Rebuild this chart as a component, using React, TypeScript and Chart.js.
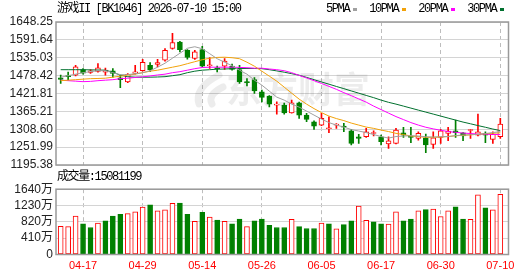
import React, { useEffect, useRef } from 'react';
import { Chart, registerables } from 'chart.js';

Chart.register(...registerables);

const dates = [
  '04-14', '04-15', '04-16', '04-17', '04-20', '04-21', '04-22', '04-23', '04-24', '04-27',
  '04-28', '04-29', '04-30', '05-06', '05-07', '05-08', '05-11', '05-12', '05-13', '05-14',
  '05-15', '05-18', '05-19', '05-20', '05-21', '05-22', '05-25', '05-26', '05-27', '05-28',
  '05-29', '06-01', '06-02', '06-03', '06-04', '06-05', '06-08', '06-09', '06-10', '06-11',
  '06-12', '06-15', '06-16', '06-17', '06-18', '06-22', '06-23', '06-24', '06-25', '06-26',
  '06-29', '06-30', '07-01', '07-02', '07-03', '07-06', '07-07', '07-08', '07-09', '07-10',
];

const opens = [
  1471.3, 1478.3, 1479.8, 1497.2, 1488.3, 1491.5, 1489.3, 1493.4, 1471.3, 1458.6,
  1485.2, 1494.1, 1511.4, 1513.6, 1527.2, 1564.2, 1585.0, 1558.8, 1532.6, 1561.0,
  1509.8, 1502.0, 1508.3, 1508.3, 1497.8, 1459.3, 1466.2, 1427.0, 1413.4, 1385.0,
  1385.0, 1360.7, 1392.2, 1353.4, 1332.3, 1321.8, 1310.1, 1321.8, 1317.1, 1303.8,
  1284.9, 1284.9, 1295.0, 1284.9, 1261.8, 1264.0, 1297.5, 1284.9, 1279.8, 1281.7,
  1260.8, 1283.0, 1295.6, 1303.8, 1297.5, 1304.5, 1290.2, 1295.6, 1276.6, 1284.9,
];
const highs = [
  1479.8, 1489.3, 1511.4, 1500.4, 1497.8, 1516.2, 1502.0, 1500.4, 1479.8, 1485.2,
  1511.4, 1530.4, 1519.9, 1530.4, 1564.2, 1612.5, 1587.3, 1561.0, 1558.8, 1571.5,
  1535.8, 1508.3, 1532.6, 1514.6, 1511.4, 1469.4, 1472.5, 1432.4, 1415.0, 1395.4,
  1391.3, 1400.8, 1394.5, 1358.8, 1335.4, 1358.8, 1348.0, 1326.6, 1327.2, 1308.2,
  1292.4, 1311.4, 1303.8, 1290.2, 1284.9, 1311.4, 1314.6, 1314.6, 1300.6, 1293.4,
  1300.6, 1308.2, 1314.6, 1337.6, 1298.1, 1308.2, 1356.6, 1300.6, 1300.6, 1343.0,
];
const lows = [
  1453.6, 1464.0, 1477.6, 1483.0, 1485.2, 1489.3, 1479.8, 1473.5, 1440.3, 1456.1,
  1483.0, 1492.5, 1490.9, 1506.0, 1524.1, 1562.6, 1553.5, 1530.4, 1529.4, 1506.7,
  1501.0, 1490.2, 1497.8, 1495.6, 1453.6, 1446.0, 1422.0, 1395.4, 1379.6, 1356.6,
  1356.6, 1359.7, 1343.0, 1332.3, 1308.2, 1320.2, 1297.5, 1311.4, 1300.6, 1258.6,
  1264.0, 1283.0, 1287.1, 1258.6, 1248.2, 1261.8, 1283.0, 1265.9, 1274.4, 1234.3,
  1248.2, 1264.0, 1272.2, 1283.0, 1272.2, 1279.8, 1287.1, 1265.9, 1264.0, 1279.8,
];
const closes = [
  1466.2, 1475.1, 1506.0, 1486.1, 1493.4, 1503.5, 1495.6, 1485.2, 1465.6, 1482.4,
  1490.2, 1520.9, 1496.2, 1519.9, 1558.8, 1583.2, 1561.0, 1535.8, 1553.5, 1508.3,
  1513.0, 1499.7, 1524.1, 1497.8, 1458.6, 1456.1, 1430.2, 1409.3, 1388.2, 1388.2,
  1360.7, 1392.2, 1353.4, 1339.8, 1318.7, 1343.0, 1312.4, 1325.0, 1315.5, 1264.0,
  1279.8, 1300.6, 1298.1, 1269.1, 1272.2, 1306.0, 1290.2, 1283.0, 1295.6, 1258.6,
  1281.7, 1303.8, 1302.9, 1297.5, 1287.1, 1306.7, 1300.6, 1290.2, 1292.4, 1325.0,
];

const ma5 = [
  1473.5, 1478.2, 1483.0, 1487.7, 1490.9, 1494.0, 1494.0, 1487.7, 1481.4, 1481.4,
  1484.6, 1487.7, 1494.0, 1505.1, 1517.7, 1533.5, 1549.3, 1565.1, 1569.9, 1563.6,
  1547.8, 1532.0, 1520.9, 1509.8, 1495.6, 1483.0, 1464.0, 1448.2, 1429.3, 1410.3,
  1400.8, 1388.2, 1378.7, 1366.1, 1353.4, 1340.8, 1329.7, 1321.8, 1315.5, 1307.6,
  1302.9, 1298.1, 1291.8, 1285.5, 1280.7, 1285.5, 1287.1, 1288.0, 1287.1, 1284.9,
  1283.9, 1284.9, 1285.5, 1288.6, 1290.2, 1291.2, 1292.4, 1295.0, 1298.1, 1301.3,
];
const ma10 = [
  1462.4, 1464.0, 1465.6, 1467.2, 1468.8, 1469.4, 1470.3, 1473.5, 1476.7, 1479.8,
  1483.0, 1487.7, 1492.5, 1495.6, 1500.4, 1505.1, 1509.8, 1516.2, 1522.5, 1528.8,
  1533.5, 1536.1, 1536.7, 1535.1, 1532.0, 1520.9, 1508.3, 1492.5, 1476.7, 1460.9,
  1441.9, 1422.9, 1404.0, 1388.2, 1374.0, 1361.3, 1350.3, 1342.4, 1336.0, 1328.1,
  1321.8, 1315.5, 1311.4, 1306.0, 1301.3, 1295.6, 1291.8, 1287.1, 1285.5, 1283.0,
  1283.0, 1283.9, 1285.5, 1288.0, 1289.3, 1290.9, 1292.8, 1294.3, 1295.9, 1297.5,
];
const ma20 = [
  1464.0, 1462.4, 1460.9, 1459.3, 1460.2, 1462.4, 1464.0, 1465.6, 1468.8, 1470.3,
  1472.6, 1474.5, 1477.3, 1480.5, 1483.0, 1487.7, 1490.9, 1495.6, 1500.4, 1504.2,
  1505.1, 1505.1, 1505.1, 1505.1, 1504.5, 1503.5, 1501.9, 1501.9, 1499.4, 1497.2,
  1494.0, 1487.7, 1479.2, 1471.0, 1462.4, 1453.6, 1444.4, 1435.0, 1424.5, 1415.0,
  1404.6, 1394.5, 1381.9, 1370.8, 1359.7, 1348.7, 1339.2, 1329.7, 1321.8, 1314.9,
  1309.8, 1305.4, 1301.3, 1298.8, 1296.5, 1295.0, 1293.4, 1292.8, 1292.1, 1291.8,
];
const ma30 = [
  1497.2, 1497.2, 1497.2, 1497.2, 1496.6, 1496.2, 1495.6, 1489.3, 1479.8, 1475.1,
  1473.5, 1473.5, 1473.5, 1474.1, 1475.1, 1478.2, 1481.4, 1487.7, 1492.5, 1495.6,
  1497.2, 1498.8, 1499.4, 1500.4, 1501.0, 1501.0, 1501.0, 1500.4, 1497.2, 1493.4,
  1489.3, 1484.6, 1479.8, 1472.9, 1465.6, 1458.3, 1451.4, 1444.1, 1437.2, 1429.9,
  1422.9, 1415.7, 1408.7, 1400.8, 1393.9, 1388.2, 1381.9, 1375.5, 1369.2, 1362.9,
  1356.6, 1350.3, 1343.9, 1337.6, 1331.3, 1325.9, 1320.2, 1314.9, 1309.2, 1304.4,
];

const volumes = [
  7070000, 7020000, 9620000, 7730000, 6780000, 7880000, 8440000, 9620000, 10090000, 10250000,
  10720000, 11900000, 12460000, 10960000, 11200000, 12850000, 12930000, 10090000, 8360000, 10570000,
  9380000, 8670000, 8360000, 7730000, 8910000, 7020000, 8440000, 8910000, 7330000, 6780000,
  6780000, 8830000, 7020000, 6540000, 6540000, 7880000, 7730000, 6470000, 7490000, 8440000,
  12140000, 8590000, 8200000, 7730000, 7650000, 10720000, 8440000, 8910000, 10960000, 11280000,
  11430000, 9540000, 10960000, 11980000, 8910000, 8830000, 14980000, 11750000, 11200000, 15081199,
];
const volumeUp = [
  1, 1, 1, 0, 0, 1, 0, 0, 0, 1,
  1, 1, 0, 1, 1, 1, 0, 0, 1, 0,
  1, 0, 1, 0, 0, 1, 0, 0, 0, 0,
  0, 1, 0, 0, 0, 1, 0, 1, 0, 0,
  1, 1, 0, 0, 1, 1, 0, 0, 1, 0,
  1, 1, 1, 0, 0, 1, 1, 0, 1, 1,
];

const priceTicks = [1195.38, 1251.99, 1308.60, 1365.21, 1421.81, 1478.42, 1535.03, 1591.64, 1648.25];
const volumeTicks = [0, 4100000, 8200000, 12300000, 16400000];
const xTickIndex = [3, 11, 19, 27, 35, 43, 51, 59];

const maNames = ['5PMA', '10PMA', '20PMA', '30PMA'];
const maColors = ['#a0a0a0', '#f2a20a', '#ff00ff', '#00702e'];

const RED = '#ff0000';
const GREEN = '#008000';
const AXIS_FONT = { family: '"Liberation Sans", "Noto Sans CJK SC", sans-serif', size: 12 };
const TEXT_FONT = '12px "Liberation Mono", "Noto Sans CJK SC", monospace';

const framePlugin = {
  id: 'frame',
  afterDatasetsDraw(chart: any) {
    const { ctx, chartArea: a } = chart;
    ctx.save();
    ctx.strokeStyle = '#999999';
    ctx.lineWidth = 1.5;
    ctx.strokeRect(a.left, a.top, a.right - a.left, a.bottom - a.top);
    ctx.restore();
  },
};

const watermarkPlugin = {
  id: 'watermark',
  beforeDatasetsDraw(chart: any) {
    const { ctx } = chart;
    ctx.save();
    ctx.fillStyle = 'rgba(0,0,0,0.075)';
    ctx.strokeStyle = 'rgba(0,0,0,0.075)';
    ctx.lineCap = 'round';
    ctx.lineWidth = 7;
    ctx.beginPath();
    ctx.moveTo(219, 75);
    ctx.quadraticCurveTo(194, 88, 199, 104);
    ctx.stroke();
    ctx.beginPath();
    ctx.moveTo(223, 87);
    ctx.quadraticCurveTo(207, 95, 212, 104);
    ctx.stroke();
    ctx.font = 'bold 36px "Noto Sans CJK SC"';
    ctx.textBaseline = 'middle';
    ctx.fillText('东方财富', 226, 89);
    ctx.restore();
  },
};

function xScale(showLabels: boolean) {
  return {
    type: 'linear',
    bounds: 'data',
    offset: false,
    min: -0.63,
    max: 60.1,
    afterBuildTicks: (s: any) => {
      s.ticks = xTickIndex.map((v) => ({ value: v }));
    },
    afterFit: (s: any) => {
      s.height = showLabels ? 21.5 : 0;
    },
    grid: { color: '#bdbdbd', lineWidth: 1, drawTicks: false, offset: false },
    border: { display: false, dash: [4, 3] },
    ticks: showLabels
      ? {
          autoSkip: false,
          maxRotation: 0,
          color: RED,
          padding: 5,
          font: { family: '"Liberation Sans", sans-serif', size: 11 },
          callback: (v: any) => dates[v] ?? '',
        }
      : { display: false },
  };
}

export default function App() {
  const priceRef = useRef<HTMLCanvasElement>(null);
  const volRef = useRef<HTMLCanvasElement>(null);

  useEffect(() => {
    const idx = dates.map((_, i) => i);
    const up = closes.map((c, i) => c >= opens[i]);
    const mas = [ma5, ma10, ma20, ma30];

    const priceChart = new Chart(priceRef.current as HTMLCanvasElement, {
      type: 'bar',
      data: {
        datasets: [
          ...mas.map((m, k) => ({
            type: 'line' as const,
            label: maNames[k],
            data: idx.map((i) => ({ x: i, y: m[i] })),
            borderColor: maColors[k],
            borderWidth: 1,
            pointRadius: 0,
            fill: false,
            tension: 0,
            order: 0,
          })),
          {
            type: 'bar' as const,
            label: 'body',
            data: idx.map((i) => ({ x: i, y: [opens[i], closes[i]] })),
            backgroundColor: up.map((u) => (u ? '#ffffff' : GREEN)),
            borderColor: up.map((u) => (u ? RED : GREEN)),
            borderWidth: 1,
            borderSkipped: false,
            barThickness: 5,
            minBarLength: 1,
            grouped: false,
            order: 1,
          },
          {
            type: 'bar' as const,
            label: 'wick',
            data: idx.map((i) => ({ x: i, y: [lows[i], highs[i]] })),
            backgroundColor: up.map((u) => (u ? RED : GREEN)),
            borderWidth: 0,
            barThickness: 1,
            grouped: false,
            order: 2,
          },
        ],
      } as any,
      options: {
        responsive: false,
        animation: false,
        events: [],
        layout: { padding: { left: 0, right: 21.5, top: 22, bottom: 15 } },
        plugins: { legend: { display: false }, tooltip: { enabled: false }, title: { display: false } },
        scales: {
          x: xScale(false) as any,
          y: {
            type: 'linear',
            bounds: 'data',
            min: 1195.38,
            max: 1648.25,
            afterBuildTicks: (s: any) => {
              s.ticks = priceTicks.map((v) => ({ value: v }));
            },
            afterFit: (s: any) => {
              s.width = 56;
            },
            grid: { color: '#d4d4d4', drawTicks: false },
            border: { display: false },
            ticks: {
              autoSkip: false,
              color: '#222',
              padding: 3,
              font: AXIS_FONT,
              callback: (v: any) => Number(v).toFixed(2),
            },
          } as any,
        },
      },
      plugins: [watermarkPlugin, framePlugin],
    });

    const volChart = new Chart(volRef.current as HTMLCanvasElement, {
      type: 'bar',
      data: {
        datasets: [
          {
            label: '成交量',
            data: idx.map((i) => ({ x: i, y: volumes[i] })),
            backgroundColor: volumeUp.map((u) => (u ? '#ffffff' : GREEN)),
            borderColor: volumeUp.map((u) => (u ? RED : GREEN)),
            borderWidth: 1,
            borderSkipped: false,
            barThickness: 5,
          },
        ],
      } as any,
      options: {
        responsive: false,
        animation: false,
        events: [],
        layout: { padding: { left: 0, right: 21.5, top: 7, bottom: 0 } },
        plugins: { legend: { display: false }, tooltip: { enabled: false } },
        scales: {
          x: xScale(true) as any,
          y: {
            type: 'linear',
            bounds: 'data',
            min: 0,
            max: 16400000,
            afterBuildTicks: (s: any) => {
              s.ticks = volumeTicks.map((v) => ({ value: v }));
            },
            afterFit: (s: any) => {
              s.width = 56;
            },
            grid: { color: '#d4d4d4', drawTicks: false },
            border: { display: false },
            ticks: {
              autoSkip: false,
              color: '#222',
              padding: 3,
              font: AXIS_FONT,
              callback: (v: any) => (Number(v) === 0 ? '0' : `${Math.round(Number(v) / 10000)}万`),
            },
          } as any,
        },
      },
      plugins: [framePlugin],
    });

    return () => {
      priceChart.destroy();
      volChart.destroy();
    };
  }, []);

  const textStyle: React.CSSProperties = {
    position: 'absolute',
    font: TEXT_FONT,
    letterSpacing: '-1.4px',
    lineHeight: '12px',
    whiteSpace: 'nowrap',
    color: '#000',
  };

  return (
    <div style={{ position: 'fixed', left: 0, top: 0, width: 530, height: 276, background: '#fff', overflow: 'hidden' }}>
      <canvas ref={priceRef} width={530} height={180} style={{ position: 'absolute', left: 0, top: 0 }} />
      <canvas ref={volRef} width={530} height={97} style={{ position: 'absolute', left: 0, top: 179 }} />
      <div style={{ ...textStyle, left: 57, top: 3 }}>游戏II [BK1046] 2026-07-10 15:00</div>
      <div style={{ ...textStyle, left: 326, top: 3, display: 'flex', alignItems: 'center' }}>
        {maNames.map((n, k) => (
          <React.Fragment key={n}>
            <span>{n}</span>
            <span
              style={{
                display: 'inline-block',
                width: 4,
                height: 3,
                background: maColors[k],
                marginLeft: 4,
                marginRight: k < maNames.length - 1 ? 12 : 0,
              }}
            />
          </React.Fragment>
        ))}
      </div>
      <div style={{ ...textStyle, left: 57, top: 171 }}>成交量:{volumes[volumes.length - 1]}</div>
    </div>
  );
}
